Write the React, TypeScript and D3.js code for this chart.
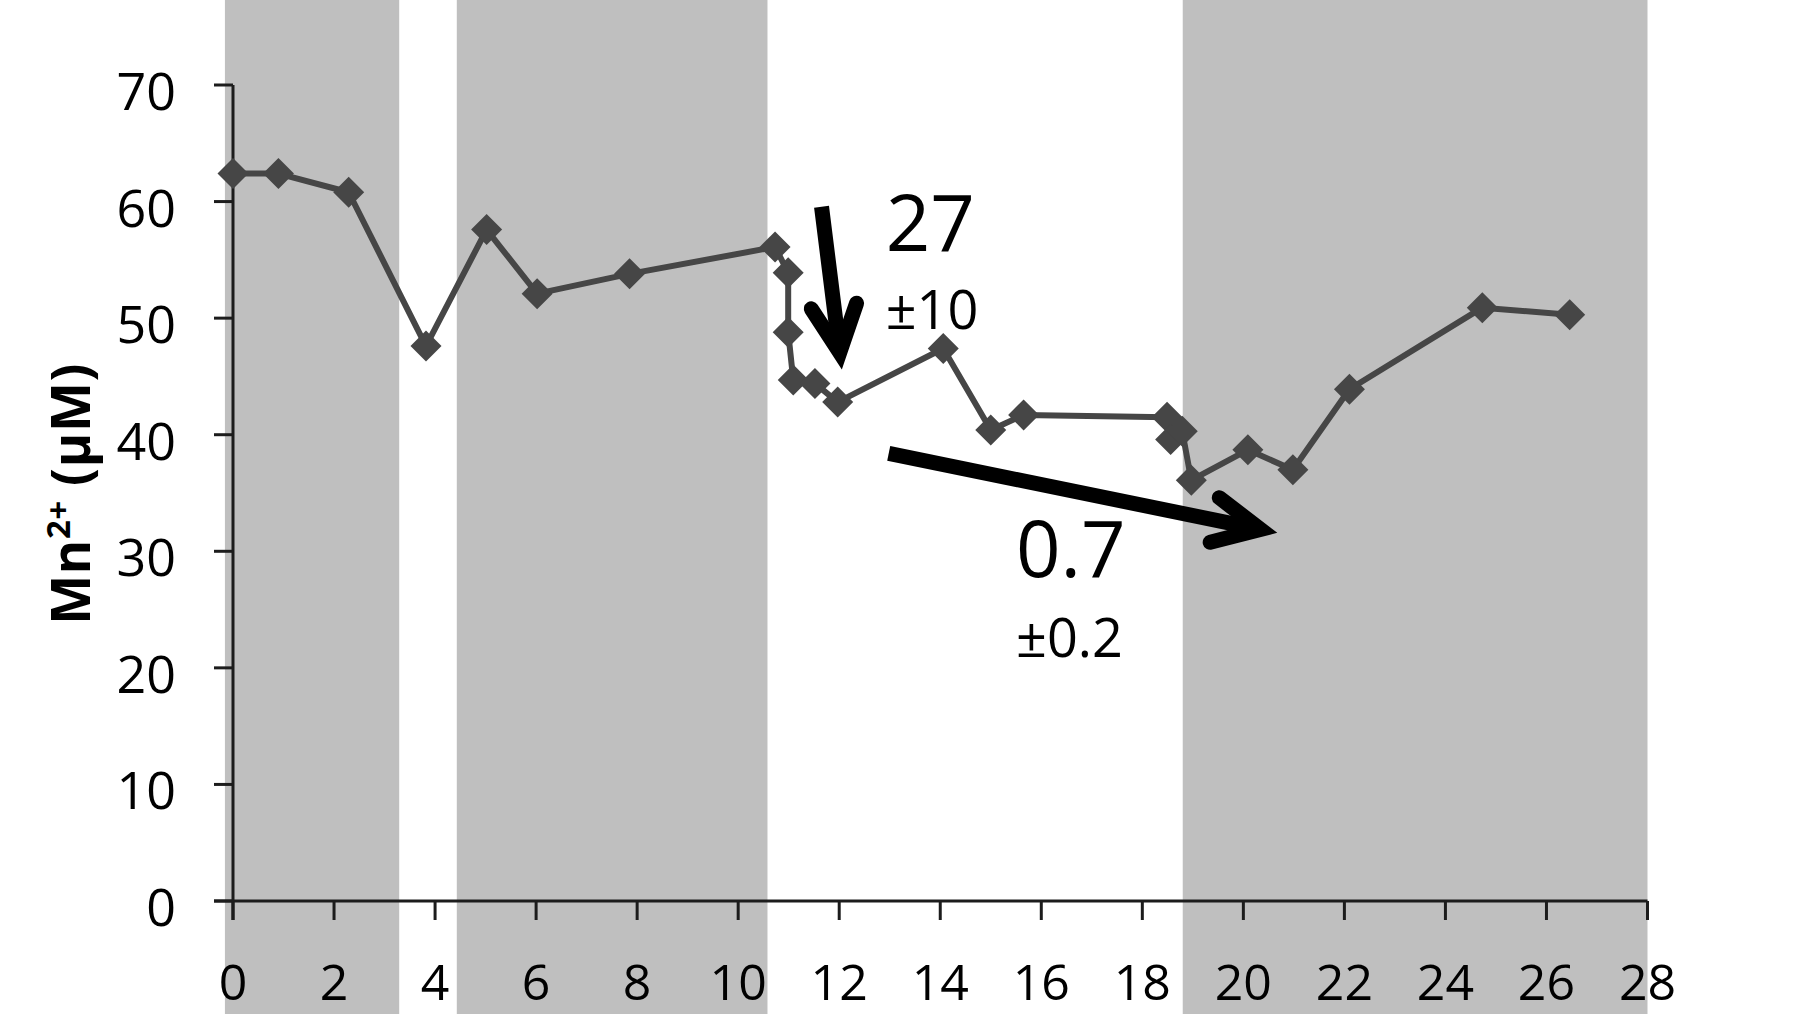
import React from "react";
import * as d3 from "d3";

// Sampling time (x) and dissolved Mn2+ concentration (µM)
const timeValues = [
  0, 0.9, 2.29, 3.82, 5.02, 6.02, 7.85, 10.73, 10.99, 10.99, 11.09, 11.52, 11.97,
  14.06, 15.0, 15.65, 18.49, 18.56, 18.79, 18.97, 20.09, 20.98, 22.1, 24.73, 26.46,
];
const mnValues = [
  62.4, 62.4, 60.8, 47.6, 57.6, 52.1, 53.8, 56.1, 53.9, 48.8, 44.7, 44.4, 42.8,
  47.4, 40.4, 41.7, 41.5, 39.6, 40.3, 36.1, 38.7, 37.0, 43.9, 50.9, 50.3,
];

// Shaded intervals [start, end] on the time axis
const bandStarts = [-0.16, 4.43, 18.8];
const bandEnds = [3.29, 10.58, 28.0];

const xTicks = [0, 2, 4, 6, 8, 10, 12, 14, 16, 18, 20, 22, 24, 26, 28];
const yTicks = [0, 10, 20, 30, 40, 50, 60, 70];

// Rate annotations: arrow from (x0,y0) to (x1,y1) in data units, with labels
const arrowStartX = [11.65, 12.98];
const arrowStartY = [59.56, 38.4];
const arrowEndX = [12.01, 20.34];
const arrowEndY = [47.06, 31.88];
const rateLabels = ["27", "0.7"];
const rateErrors = ["±10", "±0.2"];
const labelX = [12.92, 15.5];
const labelY = [55.8, 27.8];
const errorY = [49.1, 20.9];

const W = 1800;
const H = 1014;

const x = d3.scaleLinear().domain([0, 28]).range([233, 1647.5]);
const y = d3.scaleLinear().domain([0, 70]).range([901, 85]);

const FONT = "'Open Sans', 'DejaVu Sans', sans-serif";
const LINE = "#464646";
const AXIS = "#1c1c1c";

function arrowPaths(x0: number, y0: number, x1: number, y1: number) {
  const ax = x(x0), ay = y(y0), bx = x(x1), by = y(y1);
  const ang = Math.atan2(by - ay, bx - ax);
  const arm = 52;
  const spread = (26 * Math.PI) / 180;
  const l1x = bx - arm * Math.cos(ang - spread);
  const l1y = by - arm * Math.sin(ang - spread);
  const l2x = bx - arm * Math.cos(ang + spread);
  const l2y = by - arm * Math.sin(ang + spread);
  const shaft = d3.path();
  shaft.moveTo(ax, ay);
  shaft.lineTo(bx, by);
  const head = d3.path();
  head.moveTo(l1x, l1y);
  head.lineTo(bx, by);
  head.lineTo(l2x, l2y);
  return { shaft: shaft.toString(), head: head.toString() };
}

export default function App() {
  const points = timeValues.map((t, i) => [t, mnValues[i]] as [number, number]);
  const line = d3
    .line<[number, number]>()
    .x((d) => x(d[0]))
    .y((d) => y(d[1]));
  const r = 15.5;

  return (
    <svg
      width={W}
      height={H}
      style={{ position: "absolute", left: 0, top: 0, background: "#fff" }}
      fontFamily={FONT}
    >
      <rect x={0} y={0} width={W} height={H} fill="#fff" />
      {bandStarts.map((s, i) => (
        <rect
          key={"band" + i}
          x={x(s)}
          y={0}
          width={x(bandEnds[i]) - x(s)}
          height={H}
          fill="#bfbfbf"
        />
      ))}

      {/* axes */}
      <line x1={x(0)} x2={x(0)} y1={y(70)} y2={y(0) + 19} stroke={AXIS} strokeWidth={3} />
      <line x1={x(0) - 19} x2={x(28)} y1={y(0)} y2={y(0)} stroke={AXIS} strokeWidth={3} />
      {yTicks.map((v) => (
        <g key={"yt" + v}>
          <line x1={x(0) - 19} x2={x(0)} y1={y(v)} y2={y(v)} stroke={AXIS} strokeWidth={3} />
          <text x={176} y={y(v) + 25} textAnchor="end" fontSize={52} fill="#000">
            {v}
          </text>
        </g>
      ))}
      {xTicks.map((v) => (
        <g key={"xt" + v}>
          <line x1={x(v)} x2={x(v)} y1={y(0)} y2={y(0) + 19} stroke={AXIS} strokeWidth={3} />
          <text x={x(v)} y={1000} textAnchor="middle" fontSize={50} fill="#000">
            {v}
          </text>
        </g>
      ))}

      {/* y-axis title */}
      <text
        transform={`translate(90, 494) rotate(-90)`}
        textAnchor="middle"
        fontSize={53}
        fontWeight="bold"
        fill="#000"
        letterSpacing={0.5}
      >
        Mn
        <tspan fontSize={33} dy={-20}>
          2+
        </tspan>
        <tspan dy={20}> (µM)</tspan>
      </text>

      {/* series */}
      <path d={line(points) || ""} fill="none" stroke={LINE} strokeWidth={6} strokeLinejoin="round" />
      {points.map((p, i) => {
        const cx = x(p[0]);
        const cy = y(p[1]);
        return (
          <path
            key={"pt" + i}
            d={`M${cx - r},${cy}L${cx},${cy - r}L${cx + r},${cy}L${cx},${cy + r}Z`}
            fill={LINE}
          />
        );
      })}

      {/* rate arrows and labels */}
      {arrowStartX.map((_, i) => {
        const a = arrowPaths(arrowStartX[i], arrowStartY[i], arrowEndX[i], arrowEndY[i]);
        return (
          <g key={"ar" + i}>
            <path d={a.shaft} stroke="#000" strokeWidth={15} fill="none" strokeLinecap="butt" />
            <path
              d={a.head}
              stroke="#000"
              strokeWidth={15}
              fill="none"
              strokeLinecap="round"
              strokeLinejoin="miter"
              strokeMiterlimit={10}
            />
            <text x={x(labelX[i])} y={y(labelY[i])} fontSize={78} fill="#000">
              {rateLabels[i]}
            </text>
            <text x={x(labelX[i])} y={y(errorY[i])} fontSize={54} fill="#000">
              {rateErrors[i]}
            </text>
          </g>
        );
      })}
    </svg>
  );
}
